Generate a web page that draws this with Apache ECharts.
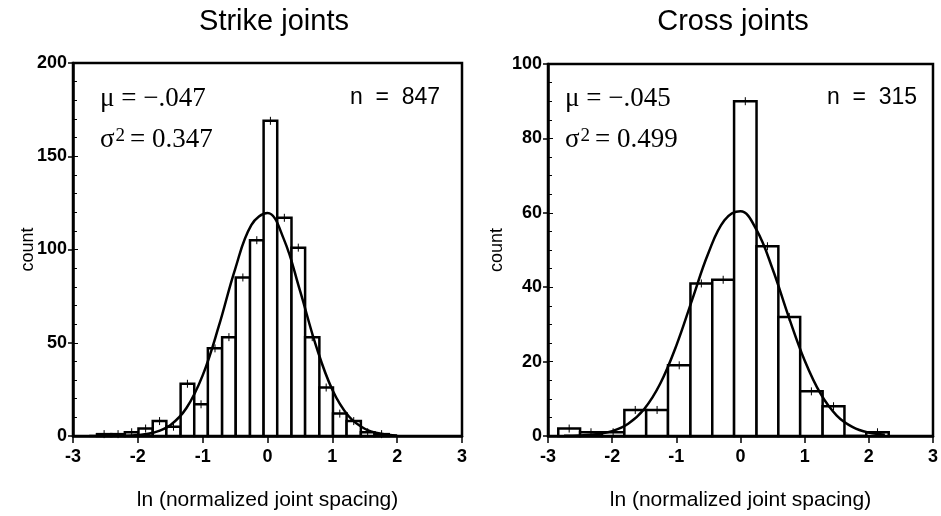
<!DOCTYPE html>
<html>
<head>
<meta charset="utf-8">
<script src="https://cdn.jsdelivr.net/npm/echarts@6.0.0/dist/echarts.min.js"></script>
<style>
  html, body { margin: 0; padding: 0; background: #fff; }
  #chart { width: 941px; height: 516px; }
</style>
</head>
<body>
<div id="chart"></div>
<script>
// histogram bin edges and counts
const strikeEdges = [-2.63, -2.41, -2.20, -1.99, -1.77, -1.56, -1.34, -1.13, -0.92, -0.70, -0.49,
  -0.27, -0.06, 0.15, 0.37, 0.58, 0.80, 1.01, 1.22, 1.44, 1.65, 1.87]
const strikeCounts = [1, 1, 2, 4, 8, 5, 28, 17, 47, 53, 85, 105, 169, 117, 101, 53, 26, 12, 8, 2, 1]
const crossEdges = [-2.84, -2.50, -2.16, -1.81, -1.47, -1.13, -0.78, -0.44, -0.10, 0.25, 0.59,
  0.93, 1.28, 1.62, 1.96, 2.31]
const crossCounts = [2, 1, 1, 7, 7, 19, 41, 42, 90, 51, 32, 12, 8, 0, 1]

// fitted normal curves, read at these x positions
const strikeCurveX = [-2.75, -2.5, -2.25, -2, -1.75, -1.5, -1.25, -1, -0.75, -0.5, -0.25, 0,
  0.25, 0.5, 0.75, 1, 1.25, 1.5, 1.75, 2]
const strikeCurveY = [0, 0.02, 0.11, 0.5, 1.9, 5.8, 15, 32.5, 59, 89.4, 113.1, 119.6,
  105.7, 78.1, 48.2, 24.8, 10.7, 3.9, 1.2, 0.3]
const crossCurveX = [-2.75, -2.5, -2.25, -2, -1.75, -1.5, -1.25, -1, -0.75, -0.5, -0.25, 0,
  0.25, 0.5, 0.75, 1, 1.25, 1.5, 1.75, 2, 2.25]
const crossCurveY = [0.04, 0.14, 0.46, 1.31, 3.29, 7.25, 14.1, 24.3, 36.8, 49.2, 58.0, 60.4,
  55.4, 44.9, 32.1, 20.3, 11.3, 5.5, 2.4, 0.92, 0.31]

const titles = ['Strike joints', 'Cross joints']
const muText = ['−.047', '−.045']
const varText = ['0.347', '0.499']
const nText = ['n  =  847', 'n  =  315']
const yMax = [200, 100]
const yStep = [50, 20]

const sans = 'Liberation Sans'
const serif = 'Liberation Serif'

function binData(edges, counts) {
  return counts.map((c, i) => [edges[i], edges[i + 1], c])
}

function curveData(xs, ys) {
  return xs.map((x, i) => [x, ys[i]])
}

function renderBar(params, api) {
  const top = api.coord([api.value(0), api.value(2)])
  const bot = api.coord([api.value(1), 0])
  const cx = (top[0] + bot[0]) / 2
  const children = [{
    type: 'rect',
    shape: { x: top[0], y: top[1], width: bot[0] - top[0], height: bot[1] - top[1] },
    style: { fill: '#fff', stroke: '#000', lineWidth: 2.5 },
  }]
  if (api.value(2) > 0) {
    children.push({
      type: 'line',
      shape: { x1: cx, y1: top[1] - 4, x2: cx, y2: top[1] + 4 },
      style: { stroke: '#000', lineWidth: 1 },
    })
  }
  return { type: 'group', children }
}

const grids = [
  { left: 73, top: 63, width: 389, height: 374 },
  { left: 548, top: 64, width: 390, height: 374 },
]

const xAxes = [0, 1].map((g) => ({
  type: 'value',
  gridIndex: g,
  min: -3,
  max: 3,
  interval: 1,
  name: 'ln (normalized joint spacing)',
  nameLocation: 'middle',
  nameGap: 54,
  nameMoveOverlap: false,
  nameTextStyle: { fontFamily: sans, fontSize: 21, color: '#000' },
  axisLine: { onZero: false, lineStyle: { color: '#000', width: 2.5 } },
  axisTick: { length: 7, lineStyle: { color: '#000', width: 1.5 } },
  axisLabel: { fontFamily: sans, fontSize: 18, fontWeight: 'bold', color: '#000', margin: 12 },
  splitLine: { show: false },
}))

const countGap = [36, 42]
const yAxes = []
;[0, 1].forEach((g) => {
  // labels, axis line and inside minor ticks
  yAxes.push({
    type: 'value',
    gridIndex: g,
    position: 'left',
    min: 0,
    max: yMax[g],
    interval: yStep[g],
    name: 'count',
    nameLocation: 'middle',
    nameGap: countGap[g],
    nameMoveOverlap: false,
    nameTextStyle: { fontFamily: sans, fontSize: 18, color: '#000' },
    axisLine: { onZero: false, lineStyle: { color: '#000', width: 2.5 } },
    axisTick: { inside: true, length: 5, lineStyle: { color: '#000', width: 1 } },
    minorTick: { show: true, splitNumber: g === 0 ? 5 : 4, length: 4, lineStyle: { color: '#000', width: 1 } },
    axisLabel: { fontFamily: sans, fontSize: 18, fontWeight: 'bold', color: '#000', margin: 6 },
    splitLine: { show: false },
  })
  // outside major ticks
  yAxes.push({
    type: 'value',
    gridIndex: g,
    position: 'left',
    offset: 0,
    min: 0,
    max: yMax[g],
    interval: yStep[g],
    axisLine: { show: false, onZero: false },
    axisTick: { length: 5, lineStyle: { color: '#000', width: 1.5 } },
    axisLabel: { show: false },
    splitLine: { show: false },
  })
})

const series = [
  {
    type: 'custom',
    xAxisIndex: 0,
    yAxisIndex: 0,
    renderItem: renderBar,
    encode: { x: [0, 1], y: 2 },
    data: binData(strikeEdges, strikeCounts),
  },
  {
    type: 'line',
    xAxisIndex: 0,
    yAxisIndex: 0,
    smooth: 0.4,
    symbol: 'none',
    z: 5,
    lineStyle: { color: '#000', width: 2.5 },
    data: curveData(strikeCurveX, strikeCurveY),
  },
  {
    type: 'custom',
    xAxisIndex: 1,
    yAxisIndex: 2,
    renderItem: renderBar,
    encode: { x: [0, 1], y: 2 },
    data: binData(crossEdges, crossCounts),
  },
  {
    type: 'line',
    xAxisIndex: 1,
    yAxisIndex: 2,
    smooth: 0.4,
    symbol: 'none',
    z: 5,
    lineStyle: { color: '#000', width: 2.5 },
    data: curveData(crossCurveX, crossCurveY),
  },
]

// text placed on the page
const textPos = [
  { title: 274, mu: 100, n: 350 },
  { title: 733, mu: 565, n: 827 },
]
const statRich = {
  a: { fontFamily: serif, fontSize: 27, color: '#000' },
  s: { fontFamily: serif, fontSize: 19, color: '#000', verticalAlign: 'top', padding: [0, 5, 0, 1] },
}
const graphic = []
textPos.forEach((p, i) => {
  graphic.push(
    { type: 'text', x: p.title, y: 22, style: { text: titles[i], font: `29px "${sans}"`, fill: '#000', textAlign: 'center', textVerticalAlign: 'middle' } },
    { type: 'text', x: p.mu, y: 99, style: { text: `{a|μ = ${muText[i]}}`, rich: statRich, textVerticalAlign: 'middle' } },
    { type: 'text', x: p.mu, y: 140, style: { text: `{a|σ}{s|2}{a|= ${varText[i]}}`, rich: statRich, textVerticalAlign: 'middle' } },
    { type: 'text', x: p.n, y: 98, style: { text: nText[i], font: `23px "${sans}"`, fill: '#000', textVerticalAlign: 'middle' } }
  )
})

const option = {
  backgroundColor: '#fff',
  animation: false,
  grid: grids.map((g) => Object.assign({ show: true, borderColor: '#000', borderWidth: 2.5, backgroundColor: 'transparent' }, g)),
  xAxis: xAxes,
  yAxis: yAxes,
  series,
  graphic,
}

const myChart = echarts.init(document.getElementById('chart'))
myChart.setOption(option)
</script>
</body>
</html>
